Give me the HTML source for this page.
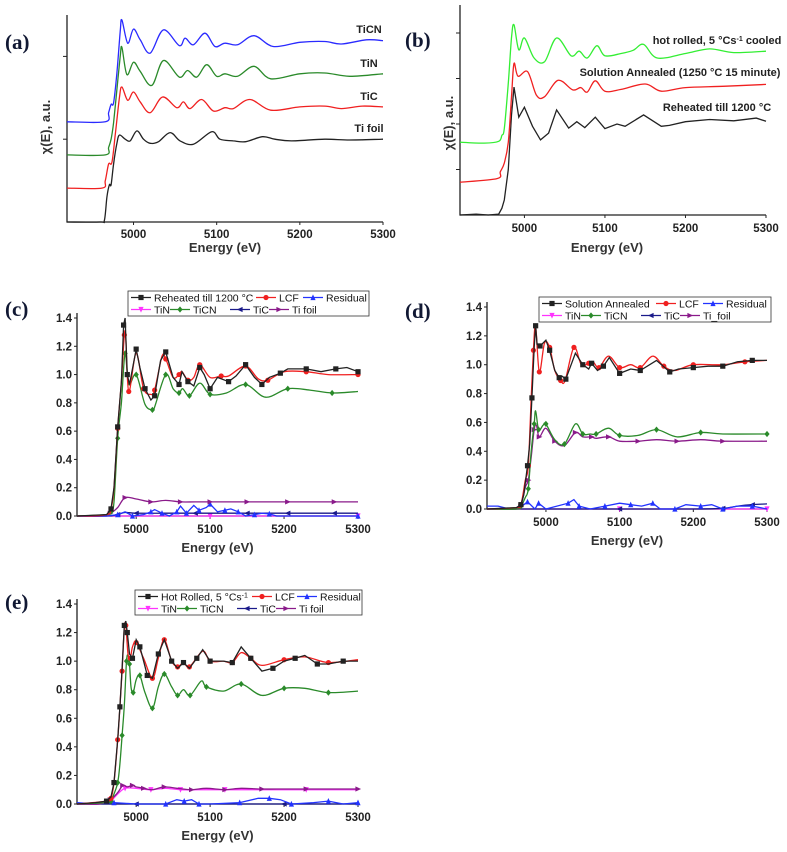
<!DOCTYPE html>
<html><head><meta charset="utf-8">
<style>
html,body{margin:0;padding:0;background:#fff;}
svg{display:block;font-family:"Liberation Sans",Arial,sans-serif;}
.tk{font-size:11.5px;font-weight:bold;fill:#222;}
.ttl{font-size:13px;font-weight:bold;fill:#333;}
.pl{font-family:"Liberation Serif",serif;font-size:21px;font-weight:bold;fill:#111833;}
.lg{font-size:10.5px;fill:#111;}
.lab{font-size:11px;font-weight:bold;fill:#222;}
</style></head>
<body>
<svg id="fig" width="787" height="852" viewBox="0 0 787 852">
<text class="pl" x="5" y="49">(a)</text>
<text class="pl" x="405" y="47">(b)</text>
<text class="pl" x="5" y="316">(c)</text>
<text class="pl" x="405" y="318">(d)</text>
<text class="pl" x="5" y="609">(e)</text>
</svg>
<script>
// ---------- Panel (a) data: standards (offset stacked) ----------
const aTiFoilE=[4920,4960,4965,4968,4971,4973,4976,4980,4983,4990,4996,5004,5012,5020,5030,5044,5056,5072,5094,5104,5120,5135,5155,5170,5190,5230,5260,5300];
const aTiFoilV=[0,0,0.02,0.3,0.45,0.45,0.7,0.95,1.05,1.0,0.98,1.1,1.0,0.95,0.97,1.08,0.98,0.94,1.09,1.0,0.98,0.97,1.03,1.0,0.98,1.0,0.99,1.0];
const aTiCE=[4920,4962,4966,4970,4974,4978,4983,4986,4993,5000,5008,5020,5035,5052,5060,5068,5082,5096,5110,5120,5140,5165,5200,5230,5250,5275,5300];
const aTiCV=[0.41,0.41,0.5,0.7,0.72,1.05,1.5,1.63,1.47,1.57,1.45,1.32,1.51,1.38,1.45,1.37,1.48,1.34,1.38,1.37,1.48,1.35,1.39,1.40,1.37,1.40,1.39];
const aTiNE=[4920,4966,4970,4973,4976,4980,4984,4986,4992,5000,5008,5022,5036,5055,5065,5076,5088,5100,5110,5125,5145,5165,5200,5230,5260,5300];
const aTiNV=[0.81,0.81,0.9,1.0,1.2,1.6,2.0,2.11,1.78,1.93,1.82,1.65,1.95,1.75,1.83,1.75,1.9,1.76,1.79,1.76,1.88,1.73,1.79,1.80,1.76,1.79];
const aTiCNE=[4920,4966,4970,4973,4976,4980,4984,4986,4993,5000,5008,5020,5036,5055,5062,5072,5086,5098,5110,5125,5145,5168,5200,5230,5250,5280,5300];
const aTiCNV=[1.21,1.21,1.32,1.42,1.44,1.8,2.3,2.44,2.16,2.33,2.2,2.04,2.32,2.13,2.22,2.14,2.28,2.12,2.16,2.14,2.25,2.12,2.17,2.18,2.15,2.2,2.19];
// ---------- Panel (b) data: samples (offset stacked) ----------
const bRehE=[4920,4940,4955,4968,4972,4975,4980,4984,4987,4993,5000,5010,5020,5030,5040,5055,5065,5075,5088,5100,5115,5125,5148,5170,5180,5200,5230,5260,5288,5300];
const bRehV=[0,0.02,0,0.02,0.15,0.33,1.0,2.2,2.81,2.15,2.37,1.95,1.65,1.8,2.31,1.91,2.05,1.92,2.15,1.9,2.0,1.95,2.2,1.95,1.97,2.05,2.1,2.07,2.13,2.06];
const bSolE=[4920,4966,4970,4975,4980,4984,4987,4992,5004,5015,5025,5042,5060,5070,5078,5088,5100,5120,5150,5170,5200,5250,5300];
const bSolV=[0.72,0.8,0.95,1.14,1.6,2.6,3.33,3.05,3.15,2.63,2.6,2.96,2.75,2.8,2.7,2.95,2.72,2.76,2.88,2.72,2.8,2.83,2.87];
const bHotE=[4920,4950,4968,4972,4975,4980,4984,4987,4993,5000,5012,5025,5040,5058,5068,5078,5090,5100,5120,5135,5148,5165,5200,5230,5260,5300];
const bHotV=[1.6,1.58,1.62,1.75,1.9,2.9,3.9,4.18,3.63,3.89,3.45,3.37,3.89,3.5,3.6,3.45,3.72,3.5,3.55,3.62,3.75,3.45,3.55,3.65,3.57,3.6];
// ---------- Panel (c) data: Reheated till 1200 C LCF ----------
const cDataE=[4920,4960,4966,4970,4975,4980,4983,4985,4988,4991,5000,5005,5012,5020,5025,5033,5040,5050,5058,5062,5070,5078,5086,5092,5100,5110,5125,5135,5148,5160,5170,5180,5195,5205,5230,5250,5270,5285,5300];
const cDataV=[0,0.01,0.05,0.2,0.63,0.95,1.35,1.4,1.0,0.93,1.18,1.05,0.9,0.82,0.85,1.1,1.16,0.98,0.93,1.02,0.95,0.92,1.05,1.0,0.9,0.98,0.95,0.99,1.07,0.98,0.93,0.98,1.01,1.04,1.04,1.02,1.04,1.05,1.02];
const cLcfE=[4920,4960,4966,4970,4975,4980,4984,4986,4990,5000,5010,5020,5025,5035,5040,5050,5058,5062,5070,5078,5086,5100,5115,5125,5148,5165,5178,5200,5230,5260,5300];
const cLcfV=[0,0.01,0.05,0.2,0.62,0.95,1.28,1.25,0.88,1.15,0.9,0.86,0.89,1.13,1.11,0.98,1.0,1.02,0.96,0.98,1.07,0.98,0.99,0.99,1.06,0.97,0.96,1.02,1.02,1.0,1.0];
const cTiCNE=[4920,4960,4966,4970,4975,4980,4985,4990,5000,5012,5022,5025,5040,5050,5058,5063,5072,5086,5100,5122,5148,5175,5205,5235,5265,5300];
const cTiCNV=[0,0.01,0.03,0.1,0.55,0.8,1.15,0.93,1.0,0.79,0.75,0.77,1.0,0.9,0.87,0.9,0.85,0.94,0.86,0.87,0.93,0.84,0.9,0.89,0.87,0.88];
const cTiFoilE=[4920,4950,4965,4975,4985,5000,5020,5040,5060,5080,5100,5125,5150,5175,5205,5235,5268,5300];
const cTiFoilV=[0,0,0.02,0.06,0.13,0.12,0.1,0.11,0.1,0.1,0.1,0.1,0.1,0.1,0.1,0.1,0.1,0.1];
const cTiCE=[4920,4960,4975,4985,5000,5040,5080,5100,5150,5180,5205,5235,5268,5300];
const cTiCV=[0,0,0.01,0.025,0.02,0.02,0.02,0.02,0.02,0.02,0.02,0.02,0.02,0.02];
const cTiNE=[4920,5000,5100,5200,5300];
const cTiNV=[0,0,0,0,0];
const cResE=[4920,4960,4975,4985,4995,5010,5020,5025,5035,5045,5055,5060,5068,5078,5085,5095,5100,5110,5120,5128,5138,5148,5160,5170,5180,5190,5300];
const cResV=[0,0,0.01,0.03,0.0,0.01,0.03,0.045,0.02,0.0,0.03,0.07,0.02,0.075,0.04,0.06,0.085,0.03,0.04,0.05,0.03,0.0,0.01,0.02,0.015,0.0,0.0];
// ---------- Panel (d) data: Solution Annealed LCF ----------
const dDataE=[4920,4960,4966,4970,4975,4978,4981,4984,4986,4988,4992,5000,5005,5012,5018,5022,5027,5040,5050,5058,5062,5070,5078,5086,5100,5115,5128,5150,5168,5180,5200,5220,5240,5260,5280,5300];
const dDataV=[0,0.01,0.03,0.1,0.3,0.45,0.77,1.12,1.27,1.14,1.13,1.17,1.1,0.96,0.91,0.92,0.9,1.08,1.0,0.97,1.01,0.96,0.99,1.05,0.94,0.97,0.96,1.03,0.95,0.97,0.98,0.99,0.99,1.02,1.03,1.03];
const dLcfE=[4920,4960,4966,4972,4976,4980,4983,4986,4991,4998,5005,5012,5020,5026,5038,5048,5058,5064,5072,5085,5100,5115,5128,5145,5160,5175,5200,5240,5270,5300];
const dLcfV=[0,0.01,0.03,0.2,0.3,0.77,1.1,1.27,0.95,1.15,1.12,0.96,0.89,0.89,1.12,1.0,1.01,1.02,0.98,1.06,0.98,1.0,0.98,1.06,0.99,0.96,1.0,1.0,1.02,1.03];
const dTiCNE=[4920,4960,4966,4972,4976,4980,4984,4986,4990,4996,5000,5012,5025,5040,5050,5060,5068,5085,5100,5125,5150,5178,5210,5240,5300];
const dTiCNV=[0,0,0.02,0.08,0.14,0.4,0.59,0.68,0.55,0.58,0.59,0.48,0.45,0.59,0.52,0.52,0.52,0.56,0.51,0.51,0.55,0.5,0.53,0.52,0.52];
const dTiFoilE=[4920,4960,4966,4972,4976,4980,4984,4987,4991,5000,5012,5025,5040,5050,5062,5068,5085,5100,5125,5150,5178,5210,5240,5300];
const dTiFoilV=[0,0,0.02,0.15,0.2,0.36,0.55,0.58,0.5,0.56,0.47,0.44,0.53,0.5,0.5,0.49,0.5,0.47,0.47,0.48,0.47,0.48,0.47,0.47];
const dTiCE=[4920,5000,5100,5200,5240,5260,5280,5300];
const dTiCV=[0,0,0,0,0.005,0.02,0.03,0.035];
const dTiNE=[4920,5000,5100,5200,5300];
const dTiNV=[0,0,0,0,0];
const dResE=[4920,4935,4950,4965,4975,4985,4990,5000,5030,5038,5045,5060,5080,5100,5115,5130,5145,5155,5175,5190,5210,5225,5240,5260,5280,5300];
const dResV=[0.02,0.02,0,0.01,0.05,0.0,0.04,0.0,0.04,0.065,0.02,0.0,0.02,0.04,0.03,0.02,0.04,0.0,0.0,0.03,0.02,0.03,0.0,0.02,0.02,0.0];
// ---------- Panel (e) data: Hot Rolled LCF ----------
const eDataE=[4920,4945,4960,4966,4970,4975,4978,4981,4984,4986,4988,4991,4995,5000,5005,5010,5015,5022,5030,5038,5048,5056,5064,5072,5082,5090,5100,5118,5130,5142,5155,5170,5185,5200,5215,5228,5245,5260,5280,5300];
const eDataV=[0,0.01,0.02,0.05,0.15,0.45,0.68,0.95,1.25,1.28,1.2,1.05,1.02,1.15,1.1,1.0,0.9,0.88,1.05,1.15,1.0,0.95,0.99,0.95,1.02,1.08,1.0,1.0,0.99,1.1,1.02,0.93,0.95,1.0,1.02,1.04,0.98,0.98,1.0,1.0];
const eLcfE=[4920,4960,4966,4970,4975,4978,4981,4984,4986,4989,4992,4995,5000,5010,5022,5030,5038,5048,5056,5064,5072,5090,5100,5118,5130,5142,5155,5170,5200,5228,5260,5300];
const eLcfV=[0,0.02,0.04,0.15,0.45,0.68,0.93,1.23,1.25,1.05,1.02,1.1,1.13,1.02,0.88,1.02,1.15,1.0,0.96,0.99,0.96,1.07,1.0,1.0,0.99,1.06,1.02,0.97,1.01,1.03,0.99,1.01];
const eTiCNE=[4920,4960,4966,4970,4975,4978,4981,4984,4987,4989,4991,4993,4996,5000,5005,5012,5022,5030,5038,5048,5056,5064,5073,5088,5095,5118,5142,5170,5200,5228,5260,5300];
const eTiCNV=[0,0.01,0.02,0.07,0.15,0.28,0.48,0.69,1.0,1.04,0.98,0.82,0.78,0.87,0.9,0.78,0.67,0.82,0.91,0.82,0.76,0.8,0.76,0.86,0.82,0.79,0.84,0.76,0.81,0.81,0.78,0.79];
const eTiFoilE=[4920,4950,4965,4975,4982,4988,4995,5000,5010,5022,5038,5055,5075,5095,5120,5142,5170,5200,5230,5260,5300];
const eTiFoilV=[0,0,0.03,0.08,0.13,0.12,0.13,0.12,0.11,0.1,0.12,0.11,0.1,0.11,0.1,0.11,0.105,0.105,0.105,0.105,0.105];
const eTiNE=[4920,4950,4965,4975,4985,5000,5020,5040,5060,5095,5120,5170,5230,5300];
const eTiNV=[0,0,0.02,0.07,0.11,0.11,0.1,0.11,0.1,0.1,0.1,0.1,0.1,0.1];
const eTiCE=[4920,4970,5000,5100,5200,5300];
const eTiCV=[0,0,0,0,0,0];
const eResE=[4920,4945,4970,5000,5040,5055,5065,5075,5085,5100,5140,5165,5180,5195,5210,5240,5260,5280,5300];
const eResV=[0.01,0.0,0.01,0.0,0.0,0.03,0.02,0.03,0.0,0.0,0.01,0.04,0.04,0.03,0.0,0.01,0.02,0.0,0.01];
// ---------- Tick labels ----------
const xTickLabels=[5000,5100,5200,5300];
const yTickLabels=["0.0","0.2","0.4","0.6","0.8","1.0","1.2","1.4"];
const aYTicks=[1,2];
const bYTicks=[1,2,3,4];

const NS='http://www.w3.org/2000/svg';
const svg=document.getElementById('fig');
function mk(tag,parent){const e=document.createElementNS(NS,tag);parent.appendChild(e);return e;}
function lin(d0,d1,r0,r1){return v=>r0+(v-d0)*(r1-r0)/(d1-d0);}
function pathD(E,V,sx,sy,smooth){
  const p=E.map((e,i)=>[sx(e),sy(V[i])]);
  let d='M'+p[0][0].toFixed(1)+','+p[0][1].toFixed(1);
  for(let i=1;i<p.length;i++){
    if(!smooth){d+='L'+p[i][0].toFixed(1)+','+p[i][1].toFixed(1);continue;}
    const p0=p[Math.max(0,i-2)],p1=p[i-1],p2=p[i],p3=p[Math.min(p.length-1,i+1)];
    const c1x=p1[0]+(p2[0]-p0[0])/6,c1y=p1[1]+(p2[1]-p0[1])/6;
    const c2x=p2[0]-(p3[0]-p1[0])/6,c2y=p2[1]-(p3[1]-p1[1])/6;
    d+='C'+[c1x,c1y,c2x,c2y,p2[0],p2[1]].map(v=>v.toFixed(1)).join(',');
  }
  return d;
}
function marker(g,shape,x,y,col){
  let e;const s=2.6;
  if(shape==='sq'){e=mk('rect',g);e.setAttribute('x',x-s);e.setAttribute('y',y-s);e.setAttribute('width',2*s);e.setAttribute('height',2*s);}
  else if(shape==='ci'){e=mk('circle',g);e.setAttribute('cx',x);e.setAttribute('cy',y);e.setAttribute('r',s);}
  else{
    let pts;
    if(shape==='up')pts=[[0,-s-0.5],[s,s],[-s,s]];
    else if(shape==='dn')pts=[[0,s+0.5],[s,-s],[-s,-s]];
    else if(shape==='lt')pts=[[-s-0.5,0],[s,-s],[s,s]];
    else if(shape==='rt')pts=[[s+0.5,0],[-s,-s],[-s,s]];
    else pts=[[0,-s-0.5],[s,0],[0,s+0.5],[-s,0]];
    e=mk('polygon',g);e.setAttribute('points',pts.map(q=>(x+q[0]).toFixed(1)+','+(y+q[1]).toFixed(1)).join(' '));
  }
  e.setAttribute('fill',col);
  return e;
}
function series(g,E,V,sx,sy,col,smooth,shape,name){
  const sg=mk('g',g);
  
  
  const p=mk('path',sg);
  p.setAttribute('d',pathD(E,V,sx,sy,smooth));
  p.setAttribute('fill','none');p.setAttribute('stroke',col);p.setAttribute('stroke-width','1.3');
  
  
  if(shape){E.forEach((e,i)=>{if(e>=4960&&i%2===0){const m=marker(sg,shape,sx(e),sy(V[i]),col);
    
    }});}
}
function axes(g,L,R,T,B,sx,xlabY,titleY,titleX){
  const ax=mk('path',g);
  ax.setAttribute('d','M'+L+','+T+'V'+B+'H'+R);
  ax.setAttribute('stroke','#222');ax.setAttribute('fill','none');ax.setAttribute('stroke-width','1.3');
  
  
  xTickLabels.forEach(v=>{
    const tk=mk('line',g);tk.setAttribute('x1',sx(v));tk.setAttribute('x2',sx(v));tk.setAttribute('y1',B);tk.setAttribute('y2',B+3);tk.setAttribute('stroke','#222');
    
    
    const t=mk('text',g);t.setAttribute('class','tk');t.setAttribute('x',sx(v));t.setAttribute('y',xlabY);t.setAttribute('text-anchor','middle');t.textContent=v;
    
    
  });
  const tt=mk('text',g);tt.setAttribute('class','ttl');tt.setAttribute('x',titleX);tt.setAttribute('y',titleY);tt.setAttribute('text-anchor','middle');tt.textContent='Energy (eV)';
  
  
}
function yTicksNum(g,L,sy){
  yTickLabels.forEach(s=>{
    const v=parseFloat(s);
    const tk=mk('line',g);tk.setAttribute('x1',L-3);tk.setAttribute('x2',L);tk.setAttribute('y1',sy(v));tk.setAttribute('y2',sy(v));tk.setAttribute('stroke','#222');
    
    
    const t=mk('text',g);t.setAttribute('class','tk');t.setAttribute('x',L-5);t.setAttribute('y',sy(v)+4);t.setAttribute('text-anchor','end');t.textContent=s;
    
    
  });
}
function yTicksPlain(g,L,sy,arr){
  arr.forEach(v=>{const tk=mk('line',g);tk.setAttribute('x1',L-4);tk.setAttribute('x2',L);tk.setAttribute('y1',sy(v));tk.setAttribute('y2',sy(v));tk.setAttribute('stroke','#222');
    
    });
}
function yTitle(g,x,y){
  const t=mk('text',g);t.setAttribute('class','ttl');t.setAttribute('transform','translate('+x+','+y+') rotate(-90)');t.setAttribute('text-anchor','middle');t.textContent='χ(E), a.u.';
  
  
}
function label(g,x,y,txt,name,sup){
  const t=mk('text',g);t.setAttribute('class','lab');t.setAttribute('x',x);t.setAttribute('y',y);t.setAttribute('text-anchor','middle');
  
  
  if(sup){txt.forEach(part=>{const s=mk('tspan',t);s.textContent=part[0];if(part[1]){s.setAttribute('baseline-shift','super');s.setAttribute('font-size','7px');}});}
  else t.textContent=txt;
}
function legend(g,x,y,w,h,rows){
  const lg=mk('g',g);
  
  
  const r=mk('rect',lg);r.setAttribute('x',x);r.setAttribute('y',y);r.setAttribute('width',w);r.setAttribute('height',h);r.setAttribute('fill','#fff');r.setAttribute('stroke','#333');r.setAttribute('stroke-width','0.8');
  rows.forEach((row,ri)=>{const yy=y+6.5+ri*12;row.forEach(it=>{
    const eg=mk('g',lg);
    
    
    const l=mk('line',eg);l.setAttribute('x1',it.x);l.setAttribute('x2',it.x+20);l.setAttribute('y1',yy);l.setAttribute('y2',yy);l.setAttribute('stroke',it.c);l.setAttribute('stroke-width','1.3');
    marker(eg,it.m,it.x+10,yy,it.c);
    const t=mk('text',eg);t.setAttribute('class','lg');t.setAttribute('x',it.x+23);t.setAttribute('y',yy+4);
    if(it.sup){it.t.forEach(part=>{const s=mk('tspan',t);s.textContent=part[0];if(part[1]){s.setAttribute('baseline-shift','super');s.setAttribute('font-size','7px');}});}
    else t.textContent=it.t;
  });});
}
function panel(name){const g=mk('g',svg);return g;}

// ---- (a)
{const g=panel('panel-a-standards');const sx=lin(4920,5300,67,383),sy=lin(0,2.5,222,15);
 axes(g,67,383,15,222,sx,238,252,225);yTicksPlain(g,67,sy,aYTicks);yTitle(g,50,127);
 series(g,aTiFoilE,aTiFoilV,sx,sy,'#222',true,null,'series-ti-foil');
 series(g,aTiCE,aTiCV,sx,sy,'#f02020',true,null,'series-tic');
 series(g,aTiNE,aTiNV,sx,sy,'#2a8a2a',true,null,'series-tin');
 series(g,aTiCNE,aTiCNV,sx,sy,'#2a2aff',true,null,'series-ticn');
 label(g,369,33,'TiCN','label-ticn');label(g,369,67,'TiN','label-tin');label(g,369,100,'TiC','label-tic');label(g,369,132,'Ti foil','label-ti-foil');}
// ---- (b)
{const g=panel('panel-b-samples');const sx=lin(4920,5300,460,766),sy=lin(0,1,215,169.5);
 axes(g,460,766,5,215,sx,232,252,607);yTicksPlain(g,460,sy,bYTicks);yTitle(g,453,123);
 series(g,bRehE,bRehV,sx,sy,'#222',false,null,'series-reheated');
 series(g,bSolE,bSolV,sx,sy,'#f02020',true,null,'series-solution-annealed');
 series(g,bHotE,bHotV,sx,sy,'#33ee33',true,null,'series-hot-rolled');
 label(g,717,44,[['hot rolled, 5 °Cs'],['-1',1],[' cooled']],'label-hot-rolled',true);
 label(g,680,76,'Solution Annealed (1250 °C 15 minute)','label-solution-annealed');
 label(g,717,111,'Reheated till 1200 °C','label-reheated');}
function lcfPanel(name,L,R,B,T,P,legendSpec){
  const g=panel(name);const sx=lin(4920,5300,L,R),sy=lin(0,1.4,B,T);
  axes(g,L,R,T-5,B,sx,B+17,B+36,(L+R)/2);yTicksNum(g,L,sy);
  series(g,P.tinE,P.tinV,sx,sy,'#ff33ff',true,'dn','series-tin');
  series(g,P.ticE,P.ticV,sx,sy,'#1a1a8a',true,'lt','series-tic');
  series(g,P.resE,P.resV,sx,sy,'#2233ff',false,'up','series-residual');
  series(g,P.foilE,P.foilV,sx,sy,'#8a1a8a',true,'rt','series-ti-foil');
  series(g,P.cnE,P.cnV,sx,sy,'#2a8a2a',true,'di','series-ticn');
  series(g,P.lcfE,P.lcfV,sx,sy,'#f02020',true,'ci','series-lcf');
  series(g,P.datE,P.datV,sx,sy,'#222',false,'sq','series-data');
  legend(g,...legendSpec);
}
const row2=(x0,foil)=>[{x:x0,c:'#ff33ff',m:'dn',t:'TiN'},{x:x0+39,c:'#2a8a2a',m:'di',t:'TiCN'},{x:x0+99,c:'#1a1a8a',m:'lt',t:'TiC'},{x:x0+138,c:'#8a1a8a',m:'rt',t:foil}];
lcfPanel('panel-c-reheated',77,358,516,318,
 {tinE:cTiNE,tinV:cTiNV,ticE:cTiCE,ticV:cTiCV,resE:cResE,resV:cResV,foilE:cTiFoilE,foilV:cTiFoilV,cnE:cTiCNE,cnV:cTiCNV,lcfE:cLcfE,lcfV:cLcfV,datE:cDataE,datV:cDataV},
 [128,291,241,25,[[{x:131,c:'#222',m:'sq',t:'Reheated till 1200 °C'},{x:256,c:'#f02020',m:'ci',t:'LCF'},{x:303,c:'#2233ff',m:'up',t:'Residual'}],row2(131,'Ti foil')]]);
lcfPanel('panel-d-solution-annealed',487,767,509,307,
 {tinE:dTiNE,tinV:dTiNV,ticE:dTiCE,ticV:dTiCV,resE:dResE,resV:dResV,foilE:dTiFoilE,foilV:dTiFoilV,cnE:dTiCNE,cnV:dTiCNV,lcfE:dLcfE,lcfV:dLcfV,datE:dDataE,datV:dDataV},
 [539,297,232,25,[[{x:542,c:'#222',m:'sq',t:'Solution Annealed'},{x:656,c:'#f02020',m:'ci',t:'LCF'},{x:703,c:'#2233ff',m:'up',t:'Residual'}],row2(542,'Ti_foil')]]);
lcfPanel('panel-e-hot-rolled',77,358,804,604,
 {tinE:eTiNE,tinV:eTiNV,ticE:eTiCE,ticV:eTiCV,resE:eResE,resV:eResV,foilE:eTiFoilE,foilV:eTiFoilV,cnE:eTiCNE,cnV:eTiCNV,lcfE:eLcfE,lcfV:eLcfV,datE:eDataE,datV:eDataV},
 [135,590,227,25,[[{x:138,c:'#222',m:'sq',t:[['Hot Rolled, 5 °Cs'],['-1',1]],sup:1},{x:252,c:'#f02020',m:'ci',t:'LCF'},{x:297,c:'#2233ff',m:'up',t:'Residual'}],row2(138,'Ti foil')]]);
</script>
</body></html>
